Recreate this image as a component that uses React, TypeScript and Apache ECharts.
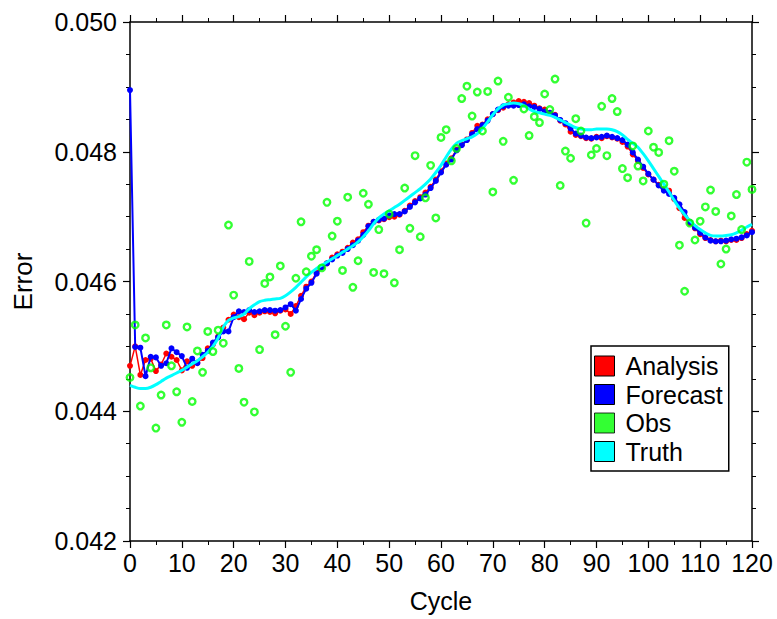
import React, { useEffect, useRef } from "react";
import * as echarts from "echarts";

const cycleMin = 0;
const cycleMax = 120;

const forecast = [
  0.04895, 0.04499, 0.04498, 0.04454, 0.04484, 0.04483, 0.04470, 0.04474, 0.04497, 0.04491,
  0.04485, 0.04467, 0.04481, 0.04474, 0.04487, 0.04493, 0.04506, 0.04514, 0.04523, 0.04523,
  0.04545, 0.04554, 0.04553, 0.04556, 0.04553, 0.04554, 0.04556, 0.04556, 0.04555, 0.04556,
  0.04560, 0.04565, 0.04555, 0.04573, 0.04589, 0.04598, 0.04612, 0.04622, 0.04628, 0.04634,
  0.04640, 0.04644, 0.04650, 0.04656, 0.04663, 0.04672, 0.04685, 0.04692, 0.04695, 0.04697,
  0.04702, 0.04704, 0.04704, 0.04708, 0.04715, 0.04722, 0.04728, 0.04734, 0.04744, 0.04755,
  0.04768, 0.04780, 0.04788, 0.04802, 0.04810, 0.04818, 0.04827, 0.04835, 0.04841, 0.04848,
  0.04858, 0.04865, 0.04870, 0.04871, 0.04871, 0.04872, 0.04873, 0.04870, 0.04869, 0.04866,
  0.04862, 0.04860, 0.04856, 0.04849, 0.04844, 0.04836, 0.04828, 0.04825, 0.04822, 0.04821,
  0.04822, 0.04823, 0.04825, 0.04823, 0.04821, 0.04818, 0.04811, 0.04799, 0.04788, 0.04777,
  0.04766, 0.04757, 0.04748, 0.04740, 0.04735, 0.04729, 0.04719, 0.04707, 0.04692, 0.04683,
  0.04675, 0.04668, 0.04663, 0.04662, 0.04662, 0.04663, 0.04665, 0.04666, 0.04668, 0.04671,
  0.04676,
];

const analysis = [
  0.04470, 0.04500, 0.04456, 0.04479, 0.04481, 0.04462, 0.04472, 0.04489, 0.04484, 0.04479,
  0.04463, 0.04477, 0.04470, 0.04475, 0.04482, 0.04497, 0.04503, 0.04515, 0.04529, 0.04541,
  0.04549, 0.04545, 0.04542, 0.04552, 0.04548, 0.04552, 0.04554, 0.04553, 0.04551, 0.04555,
  0.04557, 0.04550, 0.04562, 0.04578, 0.04592, 0.04600, 0.04614, 0.04622, 0.04628, 0.04637,
  0.04642, 0.04646, 0.04652, 0.04660, 0.04665, 0.04676, 0.04686, 0.04692, 0.04694, 0.04696,
  0.04699, 0.04700, 0.04703, 0.04709, 0.04717, 0.04724, 0.04730, 0.04737, 0.04746, 0.04757,
  0.04770, 0.04782, 0.04790, 0.04803, 0.04811, 0.04819, 0.04829, 0.04840, 0.04842, 0.04850,
  0.04858, 0.04864, 0.04868, 0.04873, 0.04876, 0.04878, 0.04877, 0.04875, 0.04871, 0.04867,
  0.04865, 0.04860, 0.04857, 0.04848, 0.04842, 0.04831, 0.04826, 0.04824, 0.04821, 0.04820,
  0.04823, 0.04821, 0.04824, 0.04822, 0.04820, 0.04815, 0.04808, 0.04796, 0.04786, 0.04775,
  0.04765, 0.04757, 0.04749, 0.04742, 0.04740, 0.04727, 0.04713, 0.04698, 0.04690, 0.04682,
  0.04673, 0.04667, 0.04664, 0.04662, 0.04663, 0.04662, 0.04664, 0.04664, 0.04667, 0.04673,
  0.04678,
];

const obs: (number | null)[] = [
  0.04452, 0.04533, 0.04408, 0.04513, 0.04467, 0.04374, 0.04425, 0.04533, 0.04470, 0.04430,
  0.04383, 0.04530, 0.04415, 0.04493, 0.04460, 0.04523, 0.04492, 0.04525, 0.04505, 0.04687,
  0.04579, 0.04466, 0.04414, 0.04631, 0.04399, 0.04495, 0.04597, 0.04607, 0.04518, 0.04624,
  0.04531, 0.04460, 0.04605, 0.04692, 0.04615, 0.04639, 0.04649, 0.04621, 0.04722, 0.04670,
  0.04693, 0.04617, 0.04730, 0.04591, 0.04632, 0.04736, 0.04719, 0.04614, 0.04680, 0.04612,
  0.04704, 0.04598, 0.04649, 0.04744, 0.04682, 0.04794, 0.04669, 0.04729, 0.04779, 0.04698,
  0.04822, 0.04834, 0.04786, 0.04805, 0.04882, 0.04901, 0.04855, 0.04892, 0.04832, 0.04893,
  0.04738, 0.04909, 0.04816, 0.04884, 0.04756, null, 0.04866, 0.04825, 0.04854, 0.04845,
  0.04889, 0.04865, 0.04912, 0.04748, 0.04801, 0.04790, 0.04851, 0.04832, 0.04690, 0.04795,
  0.04805, 0.04870, 0.04794, 0.04882, 0.04862, 0.04774, 0.04760, 0.04809, 0.04778, 0.04755,
  0.04832, 0.04807, 0.04799, 0.04750, 0.04817, 0.04770, 0.04656, 0.04585, 0.04690, 0.04664,
  0.04693, 0.04715, 0.04741, 0.04708, 0.04627, 0.04650, 0.04701, 0.04734, 0.04680, 0.04784,
  0.04742,
];

const truth = [
  0.04440, 0.04437, 0.04435, 0.04435, 0.04437, 0.04441, 0.04446, 0.04451, 0.04455, 0.04459,
  0.04463, 0.04468, 0.04473, 0.04478, 0.04484, 0.04491, 0.04500, 0.04513, 0.04530, 0.04540,
  0.04544, 0.04546, 0.04550, 0.04558, 0.04564, 0.04569, 0.04571, 0.04572, 0.04573, 0.04574,
  0.04578, 0.04584, 0.04591, 0.04599, 0.04607, 0.04614, 0.04620, 0.04625, 0.04630, 0.04635,
  0.04640, 0.04645, 0.04650, 0.04655, 0.04661, 0.04669, 0.04678, 0.04689, 0.04698, 0.04704,
  0.04709, 0.04714, 0.04719, 0.04725, 0.04731, 0.04737, 0.04743, 0.04750, 0.04758, 0.04768,
  0.04779, 0.04792, 0.04804, 0.04813, 0.04817, 0.04820, 0.04823, 0.04828, 0.04836, 0.04846,
  0.04857, 0.04866, 0.04872, 0.04874, 0.04875, 0.04874, 0.04871, 0.04866, 0.04862, 0.04860,
  0.04858, 0.04856, 0.04853, 0.04849, 0.04845, 0.04841, 0.04837, 0.04835, 0.04834, 0.04834,
  0.04835, 0.04835, 0.04835, 0.04834, 0.04831, 0.04826, 0.04819, 0.04813, 0.04807, 0.04797,
  0.04786, 0.04774, 0.04762, 0.04750, 0.04738, 0.04725, 0.04713, 0.04703, 0.04694, 0.04686,
  0.04680, 0.04675, 0.04671, 0.04670, 0.04670, 0.04671, 0.04672, 0.04675, 0.04679, 0.04684,
  0.04688,
];

const yMin = 0.042;
const yMax = 0.05;
const yInterval = 0.002;
const xInterval = 10;

const legendNames = ["Analysis", "Forecast", "Obs", "Truth"];
const colors = { Analysis: "#ff0000", Forecast: "#0000ff", Obs: "#00ff00", Truth: "#00ffff" } as Record<string, string>;

const FONT = "'Liberation Sans', Arial, Helvetica, sans-serif";
const FS = 25;

function pairs(vals: (number | null)[]) {
  const out: [number, number][] = [];
  vals.forEach((v, i) => {
    if (v !== null) out.push([i, v]);
  });
  return out;
}

export default function App() {
  const ref = useRef<HTMLDivElement>(null);
  useEffect(() => {
    if (!ref.current) return;
    const chart = echarts.init(ref.current, undefined, { renderer: "svg" });
    const axisLine = { show: true, onZero: false, lineStyle: { color: "#000", width: 1.5 } };
    const tick = { show: true, inside: false, length: 7, lineStyle: { color: "#000", width: 1.2 } };
    const labelStyle = { color: "#000", fontSize: FS, fontFamily: FONT };
    chart.setOption({
      animation: false,
      backgroundColor: "#fff",
      grid: { left: 130, right: 25, top: 22, bottom: 78, containLabel: false },
      xAxis: [
        {
          type: "value",
          position: "bottom",
          min: cycleMin,
          max: cycleMax,
          interval: xInterval,
          name: "Cycle",
          nameLocation: "middle",
          nameGap: 47,
          nameTextStyle: { color: "#000", fontSize: FS, fontFamily: FONT },
          axisLine,
          axisTick: tick,
          minorTick: { show: true, splitNumber: 2, length: 4, lineStyle: { color: "#000", width: 1 } },
          splitLine: { show: false },
          axisLabel: { ...labelStyle, margin: 9 },
        },
        {
          type: "value",
          position: "top",
          min: cycleMin,
          max: cycleMax,
          interval: xInterval,
          axisLine,
          axisTick: tick,
          minorTick: { show: true, splitNumber: 2, length: 4, lineStyle: { color: "#000", width: 1 } },
          splitLine: { show: false },
          axisLabel: { show: false },
        },
      ],
      yAxis: [
        {
          type: "value",
          position: "left",
          min: yMin,
          max: yMax,
          interval: yInterval,
          name: "Error",
          nameLocation: "middle",
          nameGap: 94,
          nameTextStyle: { color: "#000", fontSize: FS + 1, fontFamily: FONT },
          axisLine,
          axisTick: tick,
          minorTick: { show: true, splitNumber: 4, length: 4, lineStyle: { color: "#000", width: 1 } },
          splitLine: { show: false },
          axisLabel: { ...labelStyle, margin: 13, formatter: (v: number) => v.toFixed(3) },
        },
        {
          type: "value",
          position: "right",
          min: yMin,
          max: yMax,
          interval: yInterval,
          axisLine,
          axisTick: tick,
          minorTick: { show: true, splitNumber: 4, length: 4, lineStyle: { color: "#000", width: 1 } },
          splitLine: { show: false },
          axisLabel: { show: false },
        },
      ],
      legend: {
        orient: "vertical",
        left: 591,
        top: 346,
        padding: [7.5, 6, 7, 3],
        itemWidth: 20,
        itemHeight: 20,
        itemGap: 3.5,
        icon: "rect",
        backgroundColor: "#fff",
        borderColor: "#000",
        borderWidth: 1.5,
        borderRadius: 0,
        textStyle: { color: "#000", fontSize: FS, fontFamily: FONT, padding: [0, 0, 0, 6] },
        data: legendNames.map((n) => ({
          name: n,
          icon: "rect",
          itemStyle: { color: colors[n], borderColor: "#000", borderWidth: 1 },
        })),
      },
      series: [
        {
          name: "Analysis",
          type: "line",
          data: pairs(analysis),
          symbol: "circle",
          symbolSize: 6,
          showAllSymbol: true,
          itemStyle: { color: colors.Analysis },
          lineStyle: { color: colors.Analysis, width: 1.5 },
          z: 2,
        },
        {
          name: "Forecast",
          type: "line",
          data: pairs(forecast),
          symbol: "circle",
          symbolSize: 6,
          showAllSymbol: true,
          itemStyle: { color: colors.Forecast },
          lineStyle: { color: colors.Forecast, width: 2 },
          z: 3,
        },
        {
          name: "Truth",
          type: "line",
          data: pairs(truth),
          symbol: "none",
          smooth: 0.3,
          itemStyle: { color: colors.Truth },
          lineStyle: { color: colors.Truth, width: 3 },
          z: 4,
        },
        {
          name: "Obs",
          type: "scatter",
          data: pairs(obs),
          symbol: "circle",
          symbolSize: 6.5,
          itemStyle: { color: "rgba(0,0,0,0)", borderColor: colors.Obs, borderWidth: 2.4 },
          z: 5,
        },
      ],
    });
    return () => chart.dispose();
  }, []);
  return (
    <div
      ref={ref}
      style={{ position: "fixed", left: 0, top: 0, width: 777, height: 619, background: "#fff" }}
    />
  );
}
